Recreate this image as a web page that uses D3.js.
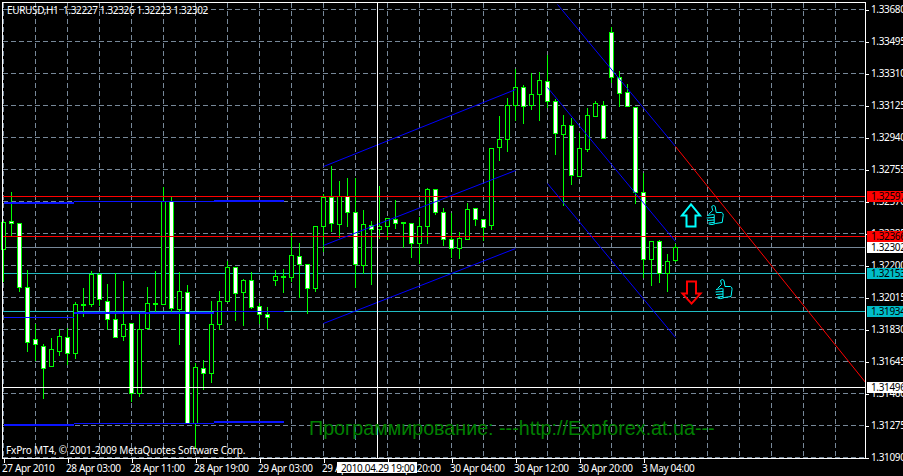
<!DOCTYPE html>
<html><head><meta charset="utf-8">
<script src="https://cdn.jsdelivr.net/npm/d3@7"></script>
<style>html,body{margin:0;padding:0;background:#000;overflow:hidden}svg{display:block}text{font-family:"Noto Sans",sans-serif}</style>
</head><body><svg id="c" width="903" height="476"></svg>
<script>
const opens=[1.32292,1.32454,1.32443,1.32073,1.31772,1.31732,1.31616,1.31703,1.31784,1.31691,1.31969,1.31975,1.32148,1.31992,1.31888,1.31790,1.31865,1.31460,1.31836,1.31977,1.31975,1.32570,1.31946,1.32044,1.31287,1.31604,1.31576,1.31859,1.31992,1.32188,1.32044,1.32113,1.31963,1.31917,1.32113,1.32131,1.32131,1.32252,1.32206,1.32067,1.32425,1.32593,1.32437,1.32599,1.32506,1.32200,1.32431,1.32408,1.32425,1.32466,1.32443,1.32443,1.32327,1.32425,1.32639,1.32506,1.32350,1.32298,1.32350,1.32530,1.32466,1.32431,1.32882,1.32928,1.33125,1.33229,1.33125,1.33189,1.33264,1.33148,1.32957,1.33009,1.32715,1.32871,1.33061,1.33125,1.33547,1.33287,1.33200,1.33113,1.32622,1.32235,1.32339,1.32154,1.32227];
const highs=[1.32460,1.32628,1.32443,1.32177,1.31865,1.31749,1.31784,1.31836,1.31842,1.31992,1.32073,1.32171,1.32159,1.32096,1.32159,1.32113,1.31865,1.31940,1.32079,1.32171,1.32657,1.32605,1.32165,1.32090,1.31639,1.31656,1.31998,1.32055,1.32229,1.32194,1.32125,1.32165,1.31986,1.31963,1.32177,1.32183,1.32391,1.32333,1.32211,1.32425,1.32616,1.32778,1.32691,1.32709,1.32709,1.32524,1.32460,1.32662,1.32477,1.32582,1.32454,1.32449,1.32483,1.32651,1.32645,1.32535,1.32506,1.32397,1.32564,1.32535,1.32472,1.32882,1.33067,1.33171,1.33339,1.33246,1.33316,1.33322,1.33420,1.33165,1.33073,1.33056,1.32969,1.33113,1.33154,1.33154,1.33582,1.33327,1.33252,1.33119,1.32738,1.32339,1.32350,1.32269,1.32326];
const lows=[1.32108,1.32368,1.32050,1.31703,1.31651,1.31431,1.31616,1.31680,1.31628,1.31663,1.31905,1.31963,1.31969,1.31830,1.31784,1.31766,1.31414,1.31443,1.31830,1.31934,1.31975,1.31922,1.31743,1.31287,1.31142,1.31483,1.31524,1.31830,1.31992,1.31882,1.31853,1.31951,1.31865,1.31836,1.32084,1.32044,1.32108,1.32015,1.31922,1.32050,1.32281,1.32397,1.32362,1.32425,1.32073,1.32154,1.32090,1.32356,1.32350,1.32414,1.32304,1.32246,1.32211,1.32327,1.32495,1.32316,1.32246,1.32240,1.32350,1.32431,1.32344,1.32408,1.32807,1.32859,1.33038,1.33021,1.33102,1.33038,1.33113,1.32842,1.32547,1.32668,1.32715,1.32859,1.33061,1.32934,1.33258,1.33119,1.33119,1.32558,1.32131,1.32084,1.32102,1.32050,1.32223];
const closes=[1.32449,1.32443,1.32073,1.31755,1.31743,1.31604,1.31714,1.31790,1.31691,1.31975,1.31975,1.32148,1.32003,1.31888,1.31784,1.31859,1.31460,1.31830,1.31980,1.31980,1.32570,1.31951,1.32050,1.31287,1.31610,1.31576,1.31859,1.31992,1.32188,1.32038,1.32113,1.31957,1.31917,1.31899,1.32136,1.32136,1.32258,1.32206,1.32067,1.32425,1.32593,1.32443,1.32599,1.32506,1.32206,1.32437,1.32408,1.32425,1.32472,1.32443,1.32449,1.32327,1.32425,1.32639,1.32506,1.32350,1.32298,1.32356,1.32524,1.32466,1.32420,1.32876,1.32928,1.33125,1.33229,1.33119,1.33189,1.33270,1.33148,1.32963,1.33009,1.32720,1.32876,1.33067,1.33137,1.32934,1.33287,1.33194,1.33119,1.32622,1.32235,1.32339,1.32154,1.32223,1.32302];

const priceTicks=[1.33680,1.33495,1.33310,1.33125,1.32940,1.32755,1.32570,1.32385,1.32200,1.32015,1.31830,1.31645,1.31460,1.31275,1.31090];
const timeTickBars=[0,8,16,24,32,40,48,56,64,72,80];
const timeTickLabels=["27 Apr 2010","28 Apr 03:00","28 Apr 11:00","28 Apr 19:00","29 Apr 03:00","29 Apr 11:00","29 Apr 20:00","30 Apr 04:00","30 Apr 12:00","30 Apr 20:00","3 May 04:00"];
const gridBars=d3.range(0,108,4);

const redLevels=[1.32597,1.32366];
const cyanLevels=[1.32153,1.31934];
const lastPrice=1.32302;
const crossPrice=1.31496;
const crossBar=46.75;
const crossLabel="2010.04.29 19:00";

// [bar0, price0, bar1, price1, thick]
const flatSegments=[
 [0,1.32564,8.75,1.32564,1],[8.75,1.32570,26.25,1.32570,0],[26.25,1.32576,35,1.32576,1],
 [0,1.31899,8.75,1.31899,0],[8.75,1.31926,26.25,1.31926,1],[26.25,1.31934,35,1.31934,0],
 [0,1.31281,8.75,1.31281,1],[8.75,1.31287,26.25,1.31287,0],[26.25,1.31298,35,1.31298,1]];
const channelSegments=[
 [40,1.32772,64,1.33217],[40,1.32316,64,1.32749],[40,1.31865,64,1.32298],
 [69.25,1.33709,84,1.32888],[68,1.33229,84,1.32339],[68,1.32674,84,1.31784]];
const trendSegment=[84,1.32888,107.75,1.31524];

const arrowsUp=[[86,1.32553]];
const arrowsDown=[[86,1.31980]];
const thumbs=[[87.9,1.32547],[89,1.32119]];

const title="EURUSD,H1  1.32227 1.32326 1.32223 1.32302";
const copyright="FxPro MT4, \u00a9 2001-2009 MetaQuotes Software Corp.";
const watermark="\u041f\u0440\u043e\u0433\u0440\u0430\u043c\u043c\u0438\u0440\u043e\u0432\u0430\u043d\u0438\u0435: ---http://Expforex.at.ua---";

const svg=d3.select("#c");
svg.append("rect").attr("width",903).attr("height",476).attr("fill","#000");
const x=d3.scaleLinear().domain([0,1]).range([3.5,11.5]);
const y=d3.scaleLinear().domain([1.3368,1.3109]).range([9.5,457.5]);
const py=p=>Math.round(y(p)-0.5)+0.5;
const L=865.5, B=458.5;
const GRID="#778899";
const SP="-0.35px";

// grid
const grid=svg.append("g").attr("shape-rendering","crispEdges").attr("stroke",GRID).attr("stroke-dasharray","5 3");
grid.selectAll(".h").data(priceTicks).join("line").attr("x1",3).attr("x2",L).attr("y1",py).attr("y2",py);
grid.selectAll(".v").data(gridBars).join("line").attr("x1",d=>x(d)).attr("x2",d=>x(d)).attr("y1",3).attr("y2",B);

// levels below candles
const levels=svg.append("g").attr("shape-rendering","crispEdges");
levels.append("line").attr("x1",3).attr("x2",L).attr("y1",py(lastPrice)).attr("y2",py(lastPrice)).attr("stroke",GRID);
levels.selectAll(".c").data(cyanLevels).join("line").attr("x1",3).attr("x2",L).attr("y1",py).attr("y2",py).attr("stroke","#20bcc4");

// candles
const bars=d3.range(opens.length);
const cg=svg.append("g").attr("shape-rendering","crispEdges");
cg.selectAll(".w").data(bars).join("line").attr("x1",x).attr("x2",x).attr("y1",i=>py(highs[i])).attr("y2",i=>py(lows[i])).attr("stroke","#00ff00");
cg.selectAll(".b").data(bars).join("rect")
 .attr("x",i=>x(i)-2).attr("width",4)
 .attr("y",i=>py(Math.max(opens[i],closes[i])))
 .attr("height",i=>Math.max(1,py(Math.min(opens[i],closes[i]))-py(Math.max(opens[i],closes[i]))))
 .attr("fill",i=>closes[i]<opens[i]?"#fff":"#000").attr("stroke","#00ff00");

// red levels
const over=svg.append("g");
over.selectAll(".r").data(redLevels).join("line").attr("shape-rendering","crispEdges").attr("x1",3).attr("x2",L).attr("y1",py).attr("y2",py).attr("stroke","#ff0000");

// blue
over.selectAll(".f").data(flatSegments).join("line").attr("shape-rendering","crispEdges")
 .attr("x1",d=>x(d[0])).attr("x2",d=>x(d[2])).attr("y1",d=>py(d[1])).attr("y2",d=>py(d[3]))
 .attr("stroke","#0a14ff").attr("stroke-width",d=>d[4]?2:1);
over.selectAll(".d").data(channelSegments).join("line")
 .attr("x1",d=>x(d[0])).attr("x2",d=>x(d[2])).attr("y1",d=>y(d[1])).attr("y2",d=>y(d[3])).attr("stroke","#0000ff");
over.append("line").attr("x1",x(trendSegment[0])).attr("x2",x(trendSegment[2])).attr("y1",y(trendSegment[1])).attr("y2",y(trendSegment[3])).attr("stroke","#ff0000");

// arrows
const upPath="M0,0 L9,11 L4.5,11 L4.5,22 L-4.5,22 L-4.5,11 L-9,11 Z";
const downPath="M0,0 L9,-10 L4.5,-10 L4.5,-22 L-4.5,-22 L-4.5,-10 L-9,-10 Z";
over.selectAll(".au").data(arrowsUp).join("path").attr("transform",d=>`translate(${x(d[0])-0.5},${y(d[1])})`).attr("d",upPath).attr("fill","none").attr("stroke","#00ffff").attr("stroke-width",2);
over.selectAll(".ad").data(arrowsDown).join("path").attr("transform",d=>`translate(${x(d[0])},${y(d[1])})`).attr("d",downPath).attr("fill","none").attr("stroke","#ff0000").attr("stroke-width",2);
const thumbG=over.selectAll(".th").data(thumbs).join("g").attr("transform",d=>`translate(${x(d[0])},${y(d[1])})`).attr("fill","none").attr("stroke","#00ffff");
thumbG.append("path").attr("d","M2,9 L6,5 L5,1 Q7,-1 8.5,1 L9.5,7 L15,7 Q17,8 16.5,10 L15.5,17 L9,18 Q5,20 2,18.5");
thumbG.append("path").attr("d","M0.5,10 L7,9 M0,12.5 L7.5,12 M0.5,15 L7.5,14.5 M2,17.5 L7.5,17 M7.5,9 L7.5,18");

// frame
const frame=svg.append("g").attr("shape-rendering","crispEdges").attr("stroke","#fff").attr("fill","none");
frame.append("path").attr("d",`M2.5,${B} L2.5,2.5 L${L},2.5 L${L},${B} L2.5,${B}`);

// axes
const ax=svg.append("g").attr("transform",`translate(0,${B})`).call(
 d3.axisBottom(x).tickValues(timeTickBars).tickFormat((d,i)=>timeTickLabels[i]).tickSize(4).tickPadding(3));
ax.select(".domain").remove();
ax.selectAll("line").attr("stroke","#fff").attr("shape-rendering","crispEdges");
ax.selectAll("text").attr("fill","#fff").attr("font-size",10).attr("text-anchor","start").attr("dx",-2).attr("y",4).attr("dy",9.4).style("font-family",'"Noto Sans"').style("letter-spacing",SP);

const ay=svg.append("g").attr("transform",`translate(${L},0)`).call(
 d3.axisRight(y).tickValues(priceTicks).tickFormat(d3.format(".5f")).tickSize(3).tickPadding(3));
ay.select(".domain").remove();
ay.selectAll("line").attr("stroke","#fff").attr("shape-rendering","crispEdges").attr("transform",d=>`translate(0,${py(d)-y(d)})`);
ay.selectAll("text").attr("fill","#fff").attr("font-size",10).attr("x",5.5).style("letter-spacing",SP);

// price tags
function tag(p,bg,fg){
 const g=svg.append("g");
 g.append("rect").attr("x",867).attr("y",py(p)-6).attr("width",36).attr("height",11).attr("fill",bg).attr("shape-rendering","crispEdges");
 g.append("text").attr("x",871).attr("y",py(p)+3.5).attr("fill",fg).attr("font-size",10).style("letter-spacing",SP).text(d3.format(".5f")(p));
}
redLevels.forEach(p=>tag(p,"#ff0000","#000"));
tag(lastPrice,"#fff","#000");
cyanLevels.forEach(p=>tag(p,"#00bcc8","#000"));

// crosshair
const ch=svg.append("g").attr("shape-rendering","crispEdges").attr("stroke","#fff");
ch.append("line").attr("x1",x(crossBar)).attr("x2",x(crossBar)).attr("y1",3).attr("y2",B);
ch.append("line").attr("x1",3).attr("x2",L).attr("y1",py(crossPrice)).attr("y2",py(crossPrice));
tag(crossPrice,"#fff","#000");
svg.append("rect").attr("x",337).attr("y",462).attr("width",80).attr("height",11).attr("fill","#fff").attr("shape-rendering","crispEdges");
svg.append("text").attr("x",341).attr("y",471.5).attr("fill","#000").attr("font-size",10).style("letter-spacing",SP).text(crossLabel);

// texts
svg.append("text").attr("x",7).attr("y",14).attr("fill","#fff").attr("font-size",10).style("letter-spacing",SP).style("white-space","pre").text(title);
svg.append("text").attr("x",6).attr("y",454).attr("fill","#fff").attr("font-size",10).style("letter-spacing","-0.17px").text(copyright);
svg.append("text").attr("x",309).attr("y",435).attr("fill","#008000").attr("font-size",19.7).style("font-family",'"Liberation Sans"').text(watermark);
</script></body></html>
